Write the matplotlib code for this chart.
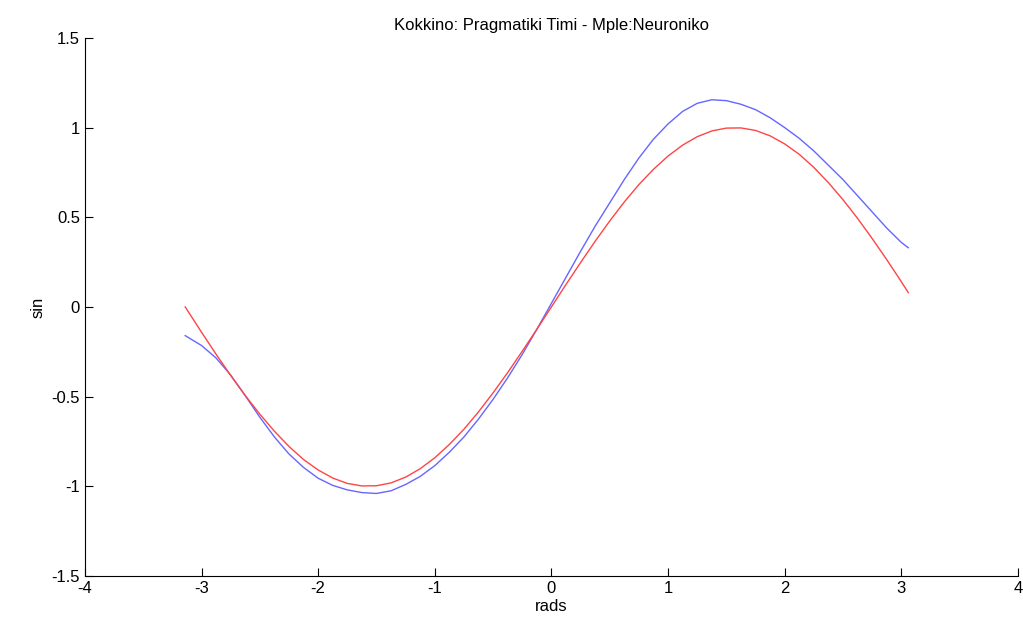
import matplotlib.pyplot as plt

plt.rcParams['font.family'] = ['Liberation Sans', 'DejaVu Sans']
plt.rcParams['axes.unicode_minus'] = False

# x samples (rads)
x_vals = [-3.14, -3.0, -2.875, -2.75, -2.625, -2.5, -2.375, -2.25, -2.125, -2.0,
          -1.875, -1.75, -1.625, -1.5, -1.375, -1.25, -1.125, -1.0, -0.875, -0.75,
          -0.625, -0.5, -0.375, -0.25, -0.125, 0.0, 0.125, 0.25, 0.375, 0.5,
          0.625, 0.75, 0.875, 1.0, 1.125, 1.25, 1.375, 1.5, 1.625, 1.75,
          1.875, 2.0, 2.125, 2.25, 2.375, 2.5, 2.625, 2.75, 2.875, 3.0, 3.06]

# real values (red)
y_red = [0.0, -0.141, -0.264, -0.382, -0.494, -0.598, -0.693, -0.778, -0.851, -0.909,
         -0.954, -0.984, -0.998, -0.997, -0.981, -0.949, -0.902, -0.841, -0.767, -0.682,
         -0.585, -0.479, -0.366, -0.247, -0.125, 0.0, 0.125, 0.247, 0.366, 0.479,
         0.585, 0.682, 0.767, 0.841, 0.902, 0.949, 0.981, 0.997, 0.998, 0.984,
         0.954, 0.909, 0.851, 0.778, 0.693, 0.598, 0.494, 0.382, 0.264, 0.141, 0.08]

# network output (blue)
y_blue = [-0.16, -0.215, -0.285, -0.38, -0.495, -0.615, -0.725, -0.82, -0.895, -0.955,
          -0.995, -1.02, -1.035, -1.04, -1.025, -0.99, -0.945, -0.885, -0.81, -0.725,
          -0.625, -0.515, -0.395, -0.265, -0.125, 0.02, 0.165, 0.31, 0.45, 0.58,
          0.71, 0.83, 0.935, 1.02, 1.09, 1.135, 1.155, 1.15, 1.13, 1.10,
          1.055, 1.0, 0.94, 0.87, 0.79, 0.71, 0.62, 0.53, 0.44, 0.36, 0.33]

fig = plt.figure(figsize=(10.23, 6.21), dpi=100)
ax = fig.add_axes([0.083, 0.0725, 0.912, 0.8665])

ax.plot(x_vals, y_blue, color='#6666ff', linewidth=1.0)
ax.plot(x_vals, y_red, color='#ff4444', linewidth=1.0)

ax.set_xlim(-4, 4)
ax.set_ylim(-1.5, 1.5)
ax.set_xticks(range(-4, 5))
ax.set_yticks([-1.5, -1, -0.5, 0, 0.5, 1, 1.5])
ax.set_yticklabels(['-1.5', '-1', '-0.5', '0', '0.5', '1', '1.5'])

ax.spines['top'].set_visible(False)
ax.spines['right'].set_visible(False)
ax.tick_params(direction='in', length=6, labelsize=12)

ax.set_xlabel('rads', fontsize=12, labelpad=2)
ax.set_ylabel('sin', fontsize=12)
ax.set_title('Kokkino: Pragmatiki Timi - Mple:Neuroniko', fontsize=12)

plt.savefig('out.png', dpi=100)
